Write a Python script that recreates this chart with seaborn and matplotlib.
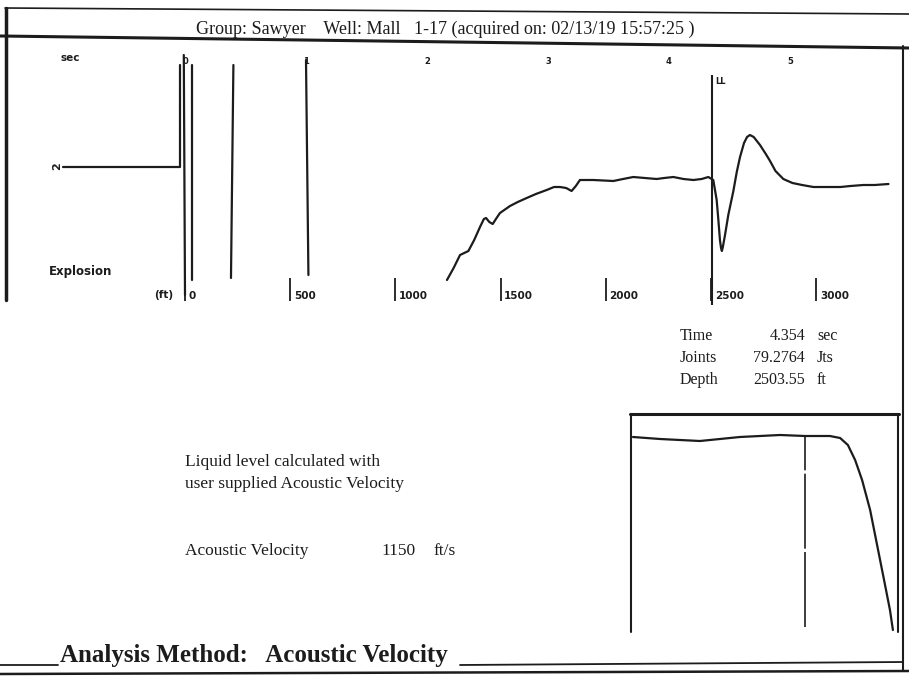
import numpy as np
import pandas as pd
import matplotlib
matplotlib.use("Agg")
import matplotlib.pyplot as plt
from matplotlib.lines import Line2D
import seaborn as sns

# ---------------- data ----------------
header = "Group: Sawyer    Well: Mall   1-17 (acquired on: 02/13/19 15:57:25 )"

# main acoustic trace (time in s, amplitude in arbitrary units), segments = unit ids
trace_t = [-1.01, -0.04, -0.04,
           -0.01, 0.00,
           0.06, 0.06,
           0.40, 0.38,
           1.00, 1.02,
           2.165, 2.22, 2.273, 2.342, 2.39, 2.438, 2.47, 2.488, 2.515, 2.543,
           2.575, 2.603, 2.686, 2.75, 2.824, 2.90, 2.989, 3.05, 3.099, 3.15,
           3.195, 3.23, 3.264, 3.375, 3.540, 3.62, 3.705, 3.80, 3.898, 3.96,
           4.036, 4.12, 4.201, 4.27, 4.325, 4.366, 4.394, 4.408, 4.421, 4.430,
           4.437, 4.445, 4.463, 4.49, 4.532, 4.56, 4.587, 4.62, 4.645, 4.669,
           4.70, 4.752, 4.80, 4.835, 4.88, 4.945, 5.02, 5.10, 5.193, 5.30,
           5.417, 5.50, 5.606, 5.70, 5.814]
trace_amp = [1.8, 1.8, 12.0,
             13.0, -11.0,
             12.0, -9.5,
             12.0, -9.3,
             12.5, -9.0,
             -9.5, -8.3, -7.0, -6.6, -5.5, -4.2, -3.4, -3.3, -3.7, -3.9,
             -3.3, -2.8, -2.1, -1.7, -1.3, -0.9, -0.5, -0.2, -0.2, -0.3,
             -0.6, -0.1, 0.5, 0.5, 0.4, 0.6, 0.8, 0.7, 0.6, 0.7,
             0.8, 0.6, 0.5, 0.6, 0.8, 0.5, -1.5, -3.5, -5.5, -6.3,
             -6.6, -6.2, -5.0, -3.0, -0.6, 1.3, 2.8, 4.2, 4.8, 5.0,
             4.8, 4.0, 3.1, 2.4, 1.4, 0.6, 0.2, 0.0, -0.2, -0.2,
             -0.2, -0.1, 0.0, 0.0, 0.1]
trace_seg = [0, 0, 0,
             1, 1,
             2, 2,
             3, 3,
             4, 4] + [5] * 65

time_ticks = [0, 1, 2, 3, 4, 5]
depth_ticks = [0, 500, 1000, 1500, 2000, 2500, 3000]
velocity = 1150.0          # ft/s
ll_time = 4.354            # s
joints = 79.2764
depth = 2503.55

# inset (zoom) trace
inset_x = [1.1, 11.2, 26.1, 41.0, 56.0, 65.3, 74.6, 78.4, 81.3, 84.0, 86.6,
           89.6, 92.2, 94.8, 97.0, 98.1]
inset_amp = [0.0, -0.8, -1.6, 0.0, 0.8, 0.4, 0.4, -0.4, -3.2, -9.2, -17.2,
             -29.2, -43.2, -57.2, -69.2, -77.2]
inset_marker = 65.3

# ---------------- style ----------------
sns.set_theme(style="white")
plt.rcParams["font.family"] = ["Liberation Serif", "DejaVu Serif"]
INK = "#1c1c1c"

W, H = 909, 678
fig = plt.figure(figsize=(W / 100, H / 100), dpi=100)
fig.patch.set_facecolor("white")


def fx(x):
    return x / W


def fy(y):
    return 1 - y / H


def fline(xs, ys, lw=1.5, **kw):
    fig.add_artist(Line2D([fx(v) for v in xs], [fy(v) for v in ys],
                          transform=fig.transFigure, color=INK, lw=lw, **kw))


# ---------------- main panel ----------------
ax = fig.add_axes([fx(8), fy(310), fx(900) - fx(8), fy(45) - fy(310)])
ax.set_xlim((8 - 185) / 121, (900 - 185) / 121)
ax.set_ylim(-12.5, 14)
for s in ax.spines.values():
    s.set_visible(False)
ax.set_xticks([])
ax.set_yticks([])
ax.set_facecolor("none")

df = pd.DataFrame({"t": trace_t, "amp": trace_amp, "seg": trace_seg})
sns.lineplot(data=df, x="t", y="amp", units="seg", estimator=None, sort=False,
             color=INK, lw=1.6, ax=ax, legend=False)
ax.set_xlabel("")
ax.set_ylabel("")

# liquid level marker
ax.vlines(ll_time, -12.0, 11.0, color=INK, lw=1.5)
ax.text(ll_time + 0.03, 10.4, "LL", fontsize=6, family="DejaVu Sans",
        fontweight="bold", color=INK, ha="left", va="center")

# time labels (top)
small = dict(family="DejaVu Sans", fontweight="bold", color=INK)
for t in time_ticks:
    ax.text(t, 12.4, str(t), ha="center", va="center", fontsize=6, **small)
ax.text(-0.95, 12.7, "sec", ha="center", va="center", fontsize=7.5, **small)

# depth ticks (bottom)
for d in depth_ticks:
    td = 2 * d / velocity
    ax.vlines(td, -11.6, -9.3, color=INK, lw=1.3)
    ax.text(td + 0.03, -11.1, str(d), ha="left", va="center", fontsize=7.5, **small)
ax.text(-0.1, -11.0, "(ft)", ha="right", va="center", fontsize=7.5, **small)
ax.text(-0.86, -8.6, "Explosion", ha="center", va="center", fontsize=8.5, **small)
ax.text(-1.06, 1.9, "2", rotation=90, ha="center", va="center",
        fontsize=8, **small)

# ---------------- inset panel ----------------
ax2 = fig.add_axes([fx(630), fy(637), fx(898) - fx(630), fy(414) - fy(637)])
ax2.set_xlim(0, 100)
ax2.set_ylim(-80, 9.2)
for s in ax2.spines.values():
    s.set_visible(False)
ax2.set_xticks([])
ax2.set_yticks([])
ax2.set_facecolor("none")
dfi = pd.DataFrame({"x": inset_x, "amp": inset_amp})
sns.lineplot(data=dfi, x="x", y="amp", estimator=None, sort=False,
             color=INK, lw=1.6, ax=ax2, legend=False)
ax2.vlines(inset_marker, -76, 0.2, color=INK, lw=1.2, linestyles=(0, (45, 2)))
ax2.set_xlabel("")
ax2.set_ylabel("")

# ---------------- frame lines ----------------
fline([5, 909], [8, 14], lw=1.2)
fline([0, 909], [36, 48], lw=2.2)
fline([6, 6], [8, 300], lw=2.5)
fline([903, 903], [46, 670], lw=1.5)
fline([630, 899], [414, 414], lw=2.2)
fline([631, 631], [414, 632], lw=1.5)
fline([898, 898], [414, 632], lw=1.5)
fline([0, 58], [665, 665], lw=1.3)
fline([460, 903], [665, 662], lw=1.3)
fline([0, 909], [674, 671], lw=1.8)

# ---------------- texts ----------------
serif = dict(color=INK, family=["Liberation Serif", "DejaVu Serif"])
fig.text(fx(445), fy(29), header, ha="center", va="center", fontsize=13, **serif)

rows = [("Time", "4.354", "sec", 336),
        ("Joints", f"{joints:.4f}", "Jts", 358),
        ("Depth", f"{depth:.2f}", "ft", 380)]
for lab, val, unit, y in rows:
    fig.text(fx(680), fy(y), lab, ha="left", va="center", fontsize=11.5, **serif)
    fig.text(fx(805), fy(y), val, ha="right", va="center", fontsize=11.5, **serif)
    fig.text(fx(817), fy(y), unit, ha="left", va="center", fontsize=11.5, **serif)

fig.text(fx(185), fy(462), "Liquid level calculated with", ha="left",
         va="center", fontsize=12.5, **serif)
fig.text(fx(185), fy(484), "user supplied Acoustic Velocity", ha="left",
         va="center", fontsize=12.5, **serif)
fig.text(fx(185), fy(551), "Acoustic Velocity", ha="left", va="center",
         fontsize=12.5, **serif)
fig.text(fx(381), fy(551), f"{velocity:.0f}", ha="left", va="center",
         fontsize=12.5, **serif)
fig.text(fx(433), fy(551), "ft/s", ha="left", va="center", fontsize=12.5, **serif)

fig.text(fx(60), fy(662), "Analysis Method:   Acoustic Velocity", ha="left",
         va="baseline", fontsize=18, fontweight="bold", **serif)

fig.savefig("out.png", dpi=100, facecolor="white")
